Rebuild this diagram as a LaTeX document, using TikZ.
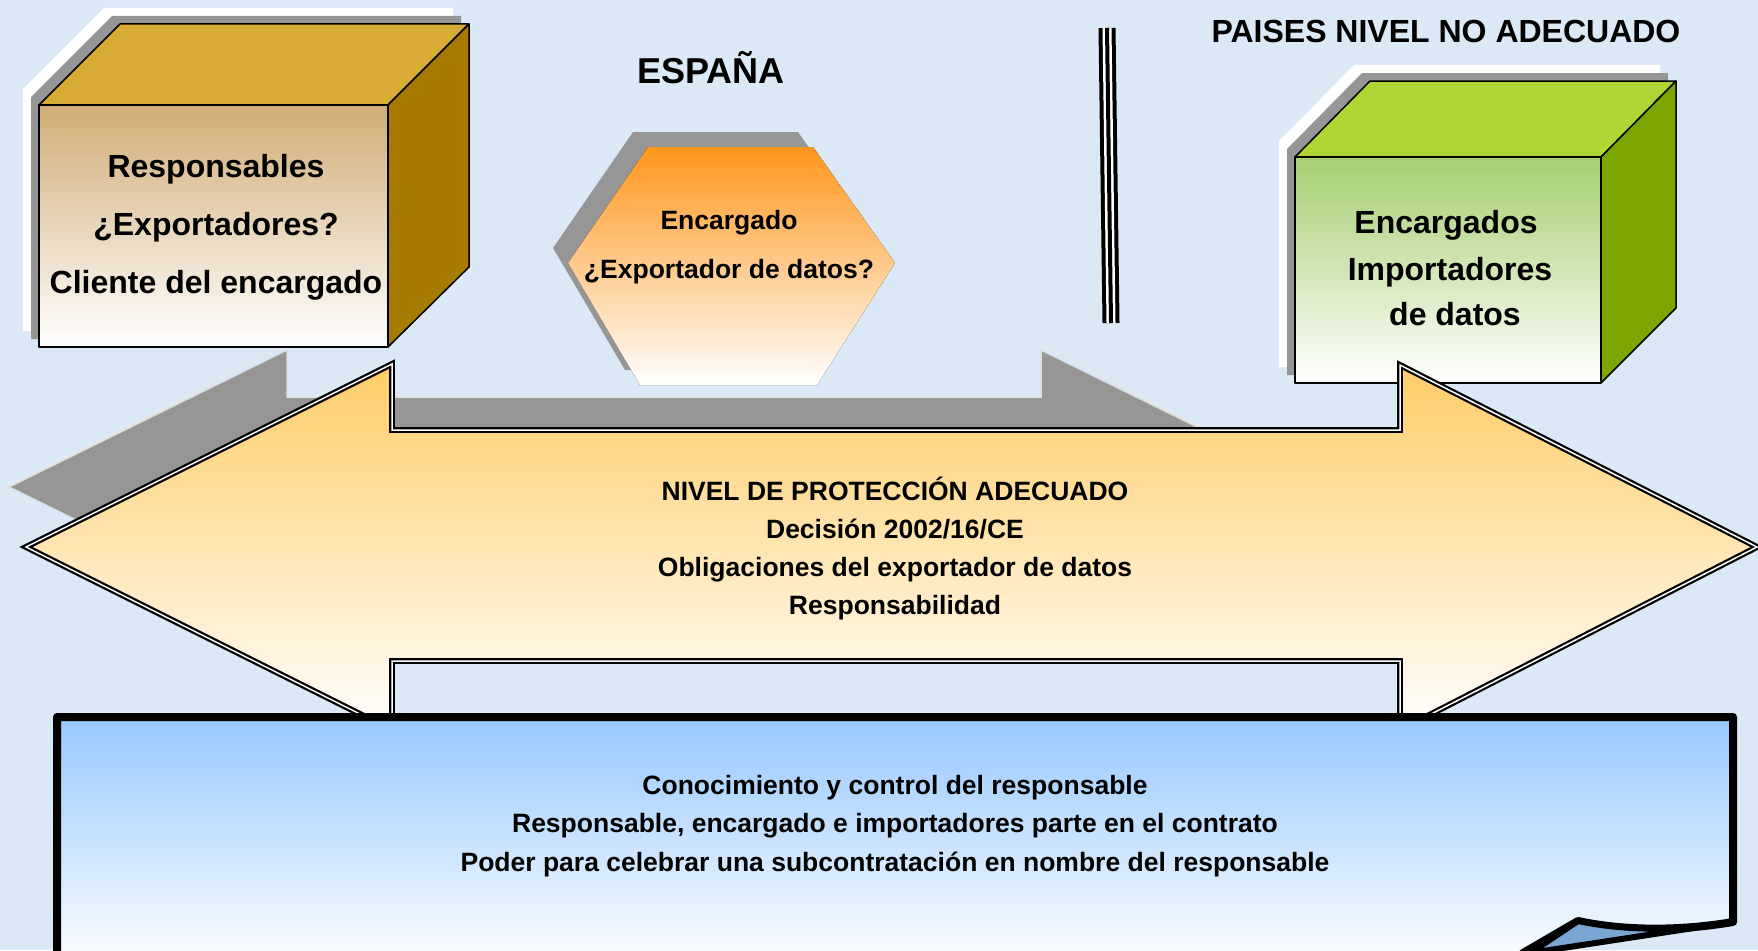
\documentclass[tikz,border=0pt]{standalone}
\usepackage{fontspec}
\setmainfont{Liberation Sans}
\usetikzlibrary{positioning, calc}

\definecolor{bgblue}{RGB}{219,233,247}
\definecolor{goldtop}{RGB}{216,172,52}
\definecolor{goldside}{RGB}{166,123,0}
\definecolor{goldfront}{RGB}{209,172,118}
\definecolor{limetop}{RGB}{174,214,52}
\definecolor{limeside}{RGB}{123,165,0}
\definecolor{limefront}{RGB}{165,206,112}
\definecolor{hexorange}{RGB}{255,150,28}
\definecolor{arrowyellow}{RGB}{255,204,102}
\definecolor{boxblue}{RGB}{150,200,255}
\definecolor{flapblue}{RGB}{122,166,211}
\definecolor{shadowgrey}{RGB}{150,150,150}

\begin{document}
\begin{tikzpicture}[x=1pt,y=-1pt]
 	\tikzstyle{edge}=[draw=black,line width=1.5pt,line join=round]
 	\tikzstyle{big-txt}=[font=\bfseries\fontsize{32}{38}\selectfont,inner sep=0pt,anchor=base]
 	\tikzstyle{small-txt}=[font=\bfseries\fontsize{26.5}{32}\selectfont,inner sep=0pt,anchor=base]

 	% page
 	\useasboundingbox (0,0) rectangle (1758,950);
 	\clip (0,0) rectangle (1758,950);
 	\fill[bgblue] (0,0) rectangle (1758,950);

 	% titles
 	\node[big-txt, font=\bfseries\fontsize{36}{40}\selectfont] (spain) at (711,84) {ESPAÑA};
 	\node[big-txt] (third) at (1446,43) {PAISES NIVEL NO ADECUADO};

 	% responsables (left box)
 	\foreach \s/\c in {16/white, 8/shadowgrey}
 		\fill[\c, shift={(-\s,-\s)}] (39,347) -- (39,105) -- (120,24) -- (469,24) -- (469,267) -- (388,347) -- cycle;
 	\draw[edge, fill=goldtop] (39,105) -- (120,24) -- (469,24) -- (388,105) -- cycle;
 	\draw[edge, fill=goldside] (388,105) -- (469,24) -- (469,267) -- (388,347) -- cycle;
 	\draw[edge, top color=goldfront, bottom color=white] (39,105) rectangle (388,347);
 	\node[big-txt] (resp-1) at (216,177) {Responsables};
 	\node[big-txt] (resp-2) at (216,235) {¿Exportadores?};
 	\node[big-txt] (resp-3) at (216,293) {Cliente del encargado};

 	% encargado (hexagon)
 	\fill[shadowgrey, shift={(-15,-15)}] (648,147) -- (813,147) -- (895,263) -- (817,385) -- (640,385) -- (568,263) -- cycle;
 	\fill[top color=hexorange, bottom color=white] (648,147) -- (813,147) -- (895,263) -- (817,385) -- (640,385) -- (568,263) -- cycle;
 	\node[small-txt] (enc-1) at (729,229) {Encargado};
 	\node[small-txt] (enc-2) at (729,278) {¿Exportador de datos?};

 	% border between the countries
 	\coordinate (sep-top) at (1107,28);
 	\coordinate (sep-bot) at (1111,323);
 	\foreach \w/\c in {17/black, 9/white, 4/black}
 		\draw[\c, line width=\w pt] (sep-top) -- (sep-bot);

 	% importadores (right box)
 	\foreach \s/\c in {16/white, 8/shadowgrey}
 		\fill[\c, shift={(-\s,-\s)}] (1295,383) -- (1295,157) -- (1370,81) -- (1676,81) -- (1676,308) -- (1601,383) -- cycle;
 	\draw[edge, fill=limetop] (1295,157) -- (1370,81) -- (1676,81) -- (1601,157) -- cycle;
 	\draw[edge, fill=limeside] (1601,157) -- (1676,81) -- (1676,308) -- (1601,383) -- cycle;
 	\draw[edge, top color=limefront, bottom color=white] (1295,157) rectangle (1601,383);
 	\node[big-txt] (imp-1) at (1446,233) {Encargados};
 	\node[big-txt] (imp-2) at (1450,280) {Importadores};
 	\node[big-txt] (imp-3) at (1455,325) {de datos};

 	% double arrow and its shadow
 	\draw[fill=shadowgrey, draw=white!70!shadowgrey, line width=1.5pt] (9,487) -- (287,350) -- (287,397) -- (1041,397) -- (1041,350) -- (1319,487) -- (1041,624) -- (1041,577) -- (287,577) -- (287,624) -- cycle;
 	\draw[top color=arrowyellow, bottom color=white, line width=2.2pt, double=white, double distance=1.5pt] (26,547) -- (392,364) -- (392,430) -- (1400,430) -- (1400,365) -- (1757,547) -- (1400,730) -- (1400,661) -- (392,661) -- (392,730) -- cycle;
 	\node[small-txt] (niv-1) at (895,500) {NIVEL DE PROTECCIÓN ADECUADO};
 	\node[small-txt] (niv-2) at (895,538) {Decisión 2002/16/CE};
 	\node[small-txt] (niv-3) at (895,576) {Obligaciones del exportador de datos};
 	\node[small-txt] (niv-4) at (895,614) {Responsabilidad};

 	% contract (bottom sheet)
 	\draw[line width=8pt, line join=round, top color=boxblue, bottom color=white] (57,970) -- (57,717) -- (1733,717) -- (1733,922) .. controls (1680,931) and (1625,931) .. (1578,921) -- (1523,953) -- (1523,970) -- cycle;
 	\draw[line width=6pt, line join=round, fill=flapblue] (1578,921) .. controls (1625,931) and (1680,931) .. (1733,922) -- (1530,953) -- cycle;
 	\node[small-txt] (con-1) at (895,794) {Conocimiento y control del responsable};
 	\node[small-txt] (con-2) at (895,832) {Responsable, encargado e importadores parte en el contrato};
 	\node[small-txt] (con-3) at (895,871) {Poder para celebrar una subcontratación en nombre del responsable};
\end{tikzpicture}
\end{document}
